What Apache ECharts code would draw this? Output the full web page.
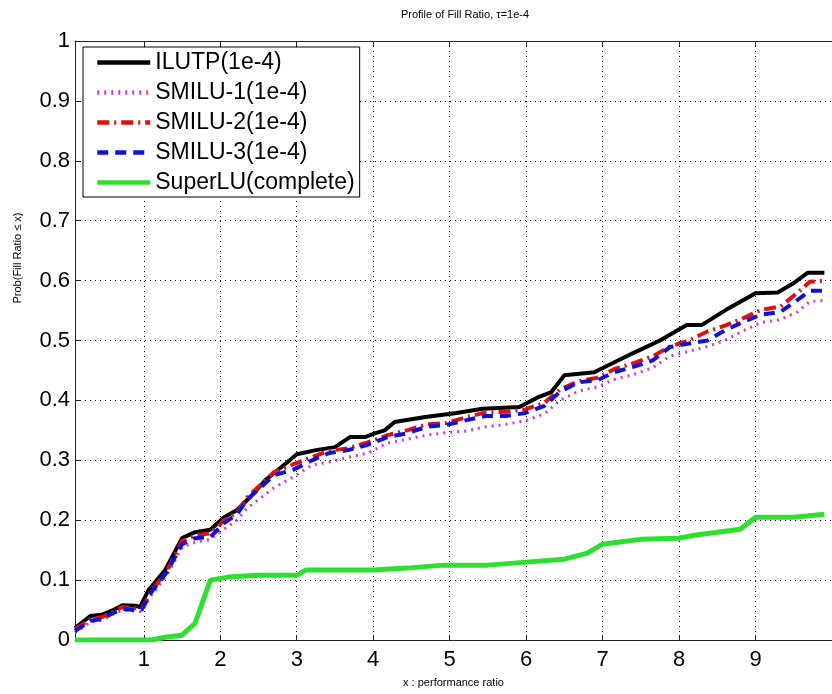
<!DOCTYPE html>
<html>
<head>
<meta charset="utf-8">
<script src="https://cdn.jsdelivr.net/npm/echarts@6/dist/echarts.min.js"></script>
<style>html,body{margin:0;padding:0;background:#fff;}#c{width:832px;height:694px;}</style>
</head>
<body>
<div id="c"></div>
<script>
const titleText = "Profile of Fill Ratio, τ=1e-4";
const xName = "x : performance ratio";
const yName = "Prob(Fill Ratio ≤ x)";
const xTicks = [1, 2, 3, 4, 5, 6, 7, 8, 9, 10];
const seriesNames = ["ILUTP(1e-4)", "SMILU-1(1e-4)", "SMILU-2(1e-4)", "SMILU-3(1e-4)", "SuperLU(complete)"];

const ilutpX = [0.1,0.3,0.45,0.6,0.72,0.9,0.95,1.06,1.28,1.5,1.67,1.87,2.05,2.22,2.4,2.6,2.86,3.0,3.25,3.5,3.7,3.9,4.02,4.15,4.28,4.66,5.09,5.43,5.91,6.17,6.33,6.5,6.89,7.4,7.75,8.1,8.3,8.65,9.0,9.29,9.5,9.68,9.9];
const ilutpY = [0.02,0.04,0.042,0.05,0.058,0.057,0.055,0.083,0.117,0.17,0.18,0.184,0.205,0.217,0.24,0.268,0.295,0.31,0.317,0.322,0.339,0.339,0.345,0.35,0.364,0.372,0.379,0.386,0.389,0.406,0.414,0.442,0.447,0.479,0.5,0.526,0.526,0.554,0.579,0.58,0.596,0.613,0.613];

const smiluX = [0.1,0.3,0.45,0.6,0.72,0.9,0.97,1.1,1.3,1.5,1.67,1.87,2.05,2.22,2.35,2.7,2.95,3.2,3.42,3.67,3.93,4.19,4.44,4.7,4.95,5.22,5.47,5.73,5.99,6.24,6.44,6.68,6.94,7.15,7.4,7.66,7.88,8.13,8.37,8.6,8.82,9.07,9.33,9.55,9.71,9.9];
const smilu1Y = [0.012,0.03,0.033,0.043,0.05,0.048,0.047,0.075,0.108,0.155,0.163,0.168,0.185,0.2,0.22,0.254,0.272,0.292,0.297,0.305,0.312,0.329,0.335,0.342,0.346,0.349,0.356,0.36,0.366,0.378,0.4,0.415,0.423,0.435,0.443,0.455,0.474,0.482,0.49,0.5,0.515,0.53,0.535,0.548,0.565,0.567];
const smilu2Y = [0.018,0.035,0.038,0.047,0.055,0.053,0.052,0.082,0.115,0.165,0.175,0.178,0.2,0.213,0.238,0.28,0.293,0.305,0.316,0.32,0.33,0.342,0.35,0.36,0.362,0.372,0.38,0.381,0.385,0.396,0.418,0.432,0.438,0.452,0.462,0.474,0.49,0.5,0.515,0.525,0.536,0.551,0.557,0.58,0.598,0.6];
const smilu3Y = [0.015,0.032,0.035,0.045,0.052,0.05,0.05,0.08,0.113,0.16,0.17,0.172,0.195,0.21,0.234,0.275,0.284,0.3,0.312,0.317,0.326,0.339,0.345,0.356,0.359,0.367,0.374,0.374,0.379,0.391,0.414,0.43,0.434,0.447,0.456,0.467,0.489,0.495,0.5,0.517,0.53,0.543,0.548,0.568,0.583,0.583];

const superX = [0.1,1.1,1.3,1.5,1.67,1.87,2.1,2.5,3.0,3.12,4.0,4.44,4.92,5.5,6.0,6.5,6.8,7.0,7.3,7.5,8.0,8.2,8.5,8.8,9.0,9.5,9.9];
const superY = [0,0,0.005,0.008,0.028,0.1,0.105,0.108,0.108,0.117,0.117,0.12,0.125,0.125,0.13,0.135,0.145,0.16,0.165,0.168,0.17,0.175,0.18,0.185,0.205,0.205,0.21];

function zip(xs, ys) { return xs.map((x, i) => [x, ys[i]]); }

const FONT = "'Liberation Sans', Arial, Helvetica, sans-serif";
const gridLine = { show: true, lineStyle: { color: '#000', width: 1, type: [1, 4] } };

const chart = echarts.init(document.getElementById('c'), null, { renderer: 'canvas' });
chart.setOption({
  animation: false,
  backgroundColor: '#fff',
  title: {
    text: titleText, left: 460, top: 4, textAlign: 'center',
    textStyle: { fontFamily: FONT, fontSize: 11, fontWeight: 'normal', color: '#000' }
  },
  grid: { left: 75, right: -13, top: 41, bottom: 54, containLabel: false },
  legend: {
    orient: 'vertical', left: 83, top: 47,
    padding: [4, 5, 3, 12], itemGap: 7, itemWidth: 53, itemHeight: 14,
    backgroundColor: '#fff', borderColor: '#000', borderWidth: 1, borderRadius: 0,
    itemStyle: { color: 'transparent', borderWidth: 0, opacity: 0 },
    lineStyle: { width: 4.5 },
    textStyle: { fontFamily: FONT, fontSize: 23, color: '#000', padding: [0, 0, 0, 0] },
    data: seriesNames
  },
  xAxis: [{
    type: 'value', min: 0.1, max: 10,
    name: xName, nameLocation: 'middle', nameGap: 37,
    nameTextStyle: { fontFamily: FONT, fontSize: 11, color: '#000' },
    axisLine: { show: true, lineStyle: { color: '#222', width: 1 } },
    axisTick: { show: true, inside: true, length: 5, customValues: xTicks, lineStyle: { color: '#222' } },
    axisLabel: { customValues: xTicks.slice(0, 9), fontFamily: FONT, fontSize: 22, color: '#000', margin: 9 },
    splitLine: gridLine
  }, {
    type: 'value', min: 0.1, max: 10, position: 'top',
    axisLine: { show: true, lineStyle: { color: '#222', width: 1 } },
    axisTick: { show: true, inside: true, length: 5, customValues: xTicks, lineStyle: { color: '#222' } },
    axisLabel: { show: false },
    splitLine: { show: false }
  }],
  yAxis: {
    type: 'value', min: 0, max: 1, interval: 0.1,
    axisLine: { show: true, lineStyle: { color: '#222', width: 1 } },
    axisTick: { show: true, inside: true, length: 5, lineStyle: { color: '#222' } },
    axisLabel: { fontFamily: FONT, fontSize: 22, color: '#000', margin: 5 },
    splitLine: gridLine
  },
  graphic: [{
    type: 'text', x: 18, y: 258, rotation: Math.PI / 2,
    style: { text: yName, fontFamily: FONT, fontSize: 11, fill: '#000', textAlign: 'center', textVerticalAlign: 'middle' }
  }],
  series: [
    { name: seriesNames[0], type: 'line', symbol: 'none', symbolSize: 0, data: zip(ilutpX, ilutpY),
      lineStyle: { color: '#000', width: 4, type: 'solid' }, itemStyle: { color: '#000' } },
    { name: seriesNames[1], type: 'line', symbol: 'none', symbolSize: 0, data: zip(smiluX, smilu1Y),
      lineStyle: { color: '#d03cd0', width: 3, type: [2, 5] }, itemStyle: { color: '#d03cd0' } },
    { name: seriesNames[2], type: 'line', symbol: 'none', symbolSize: 0, data: zip(smiluX, smilu2Y),
      lineStyle: { color: '#e01010', width: 4, type: [12, 5, 2, 5] }, itemStyle: { color: '#e01010' } },
    { name: seriesNames[3], type: 'line', symbol: 'none', symbolSize: 0, data: zip(smiluX, smilu3Y),
      lineStyle: { color: '#1010dd', width: 4, type: [11, 7] }, itemStyle: { color: '#1010dd' } },
    { name: seriesNames[4], type: 'line', symbol: 'none', symbolSize: 0, data: zip(superX, superY),
      lineStyle: { color: '#2de02d', width: 5, type: 'solid' }, itemStyle: { color: '#2de02d' } }
  ]
});
</script>
</body>
</html>
